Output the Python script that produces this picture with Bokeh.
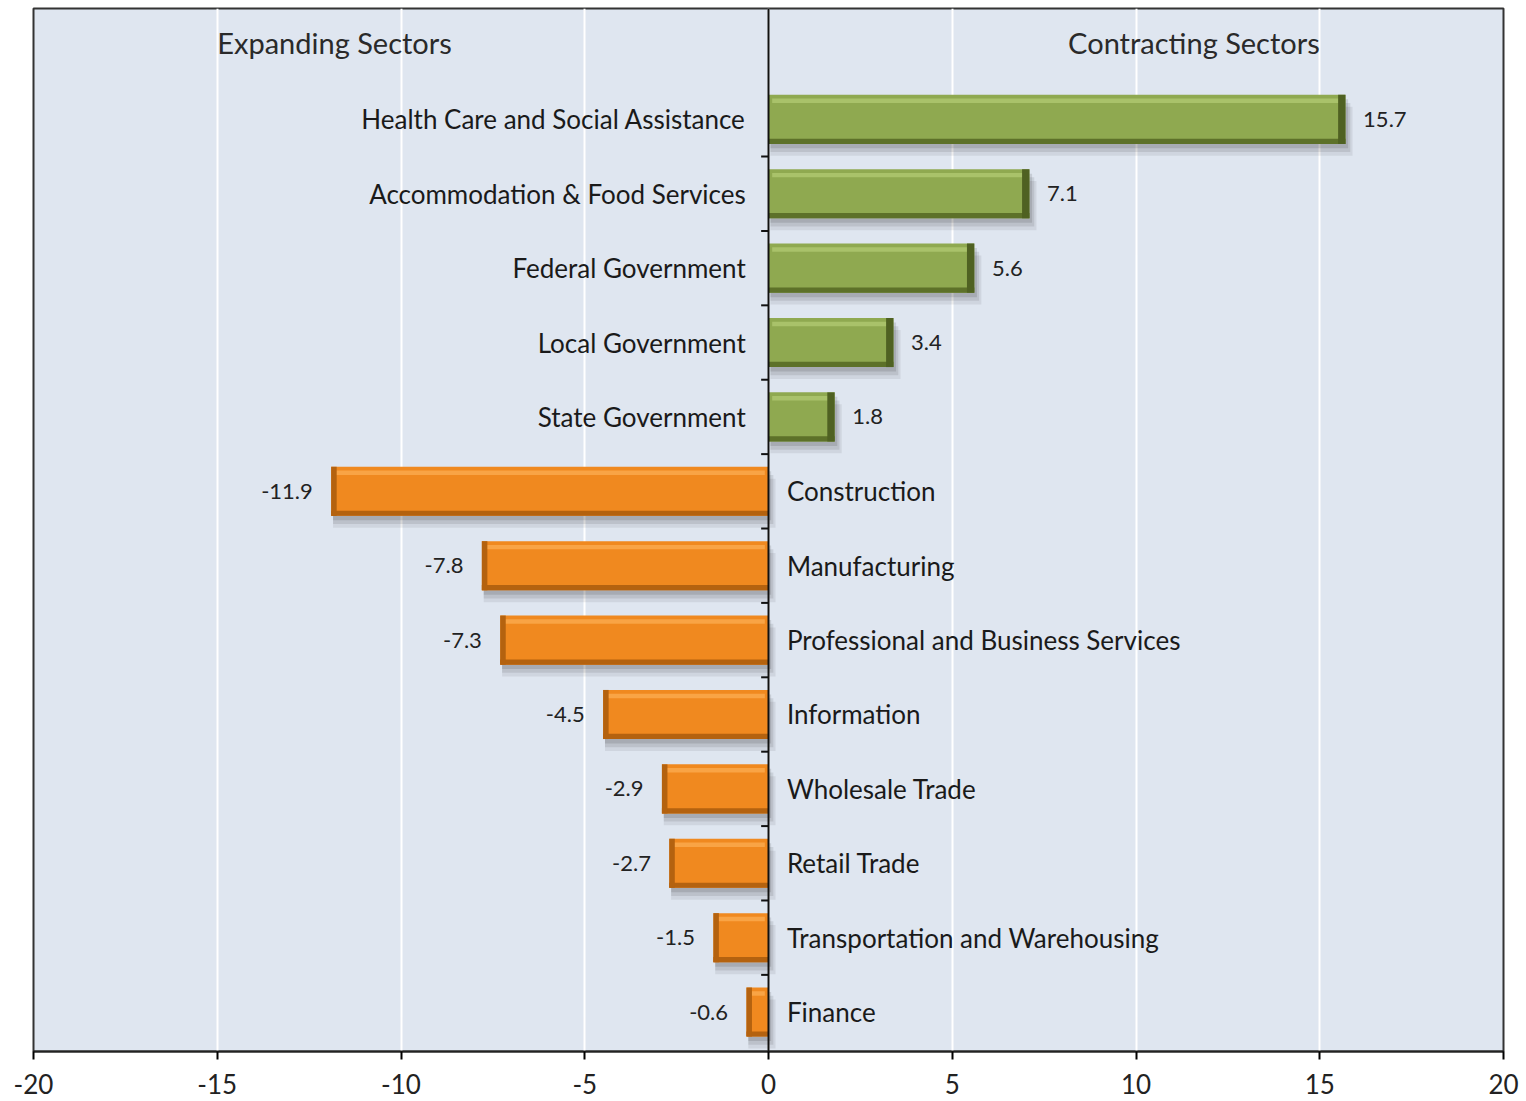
from bokeh.plotting import figure
from bokeh.models import Range1d, ColumnDataSource, FixedTicker, Span
from bokeh.core.properties import value
from bokeh.embed import file_html
from bokeh.resources import INLINE

sectors = ["Health Care and Social Assistance", "Accommodation & Food Services",
           "Federal Government", "Local Government", "State Government",
           "Construction", "Manufacturing", "Professional and Business Services",
           "Information", "Wholesale Trade", "Retail Trade",
           "Transportation and Warehousing", "Finance"]
changes = [15.7, 7.1, 5.6, 3.4, 1.8, -11.9, -7.8, -7.3, -4.5, -2.9, -2.7, -1.5, -0.6]
x_ticks = [-20, -15, -10, -5, 0, 5, 10, 15, 20]
headers = ["Expanding Sectors", "Contracting Sectors"]

FONT = "Lato"
ypos = list(range(len(sectors)))
H = 0.33

p = figure(width=1526, height=1101, output_backend="svg", toolbar_location=None,
           x_range=Range1d(-20, 20), y_range=Range1d(12.53, -1.49),
           y_axis_location=None, min_border_left=33, min_border_right=23,
           min_border_top=8, min_border_bottom=50)
p.background_fill_color = "#dfe6f0"
p.border_fill_color = "white"
p.outline_line_color = "#333333"
p.outline_line_width = 2
p.ygrid.visible = False
p.xgrid.grid_line_color = "white"
p.xgrid.grid_line_width = 2
p.xaxis.ticker = FixedTicker(ticks=x_ticks)
p.xaxis.major_label_overrides = {t: str(t) for t in x_ticks}
p.xaxis.axis_line_width = 2
p.xaxis.axis_line_color = "#222222"
p.xaxis.major_tick_line_width = 2
p.xaxis.major_tick_out = 8
p.xaxis.major_tick_in = 0
p.xaxis.minor_tick_line_color = None
p.xaxis.major_label_text_font = FONT
p.xaxis.major_label_text_font_size = "26px"
p.xaxis.major_label_text_color = "#222222"
p.xaxis.major_label_standoff = 14

green = dict(base="#8fa950", light="#a9c26a", dark="#5d7129", shadow="#4f6122")
orange = dict(base="#f0891f", light="#f9a445", dark="#b4620f", shadow="#8a4a0a")

rows = []
for y, v in zip(ypos, changes):
    c = green if v > 0 else orange
    lo, hi = min(0, v), max(0, v)
    rows.append((y, v, lo, hi, c))

def src(fn):
    d = {"left": [], "right": [], "top": [], "bottom": [], "color": []}
    for y, v, lo, hi, c in rows:
        l, r, t, b, col = fn(y, v, lo, hi, c)
        d["left"].append(l); d["right"].append(r); d["top"].append(t)
        d["bottom"].append(b); d["color"].append(col)
    return ColumnDataSource(d)

# soft shadows
for k, a in [(0.16, 0.07), (0.11, 0.09), (0.06, 0.11)]:
    p.quad(source=src(lambda y, v, lo, hi, c: (lo + 0.05, hi + k * 1.2, y - H + k, y + H + k, "#000000")),
           left="left", right="right", top="top", bottom="bottom",
           fill_color="color", fill_alpha=a, line_color=None)
# main bar
p.quad(source=src(lambda y, v, lo, hi, c: (lo, hi, y - H, y + H, c["base"])),
       left="left", right="right", top="top", bottom="bottom",
       fill_color="color", line_color=None)
# top highlight
p.quad(source=src(lambda y, v, lo, hi, c: (lo + 0.1, hi - 0.1, y - H + 0.05, y - H + 0.11, c["light"])),
       left="left", right="right", top="top", bottom="bottom",
       fill_color="color", line_color=None)
# bottom dark band
p.quad(source=src(lambda y, v, lo, hi, c: (lo, hi, y + H - 0.07, y + H, c["dark"])),
       left="left", right="right", top="top", bottom="bottom",
       fill_color="color", line_color=None)
# end bevel
p.quad(source=src(lambda y, v, lo, hi, c: ((hi - 0.2, hi, y - H, y + H, c["shadow"]) if v > 0
                                           else (lo, lo + 0.15, y - H, y + H, c["dark"]))),
       left="left", right="right", top="top", bottom="bottom",
       fill_color="color", line_color=None)

# zero axis and category separators
p.add_layout(Span(location=0, dimension="height", line_color="#111111", line_width=2))
p.segment(x0=[-0.2] * (len(sectors) - 1), x1=[0] * (len(sectors) - 1),
          y0=[y + 0.5 for y in ypos[:-1]], y1=[y + 0.5 for y in ypos[:-1]],
          line_color="#111111", line_width=2)

# category labels
pos = [(y, s) for y, s, v in zip(ypos, sectors, changes) if v > 0]
neg = [(y, s) for y, s, v in zip(ypos, sectors, changes) if v <= 0]
p.text(x=[-0.62] * len(pos), y=[a for a, _ in pos], text=[b for _, b in pos],
       text_align="right", text_baseline="middle", text_font=value(FONT),
       text_font_size="26px", text_color="#1a1a1a")
p.text(x=[0.5] * len(neg), y=[a for a, _ in neg], text=[b for _, b in neg],
       text_align="left", text_baseline="middle", text_font=value(FONT),
       text_font_size="26px", text_color="#1a1a1a")

# value labels
pv = [(y, v) for y, v in zip(ypos, changes) if v > 0]
nv = [(y, v) for y, v in zip(ypos, changes) if v <= 0]
p.text(x=[v + 0.48 for _, v in pv], y=[y for y, _ in pv], text=[f"{v:.1f}" for _, v in pv],
       text_align="left", text_baseline="middle", text_font=value(FONT),
       text_font_size="22px", text_color="#222222")
p.text(x=[v - 0.5 for _, v in nv], y=[y for y, _ in nv], text=[f"{v:.1f}" for _, v in nv],
       text_align="right", text_baseline="middle", text_font=value(FONT),
       text_font_size="22px", text_color="#222222")

# headers
p.text(x=[-15], y=[-1.03], text=[headers[0]], text_align="left", text_baseline="middle",
       text_font=value(FONT), text_font_size="29px", text_color="#2a2a2a")
p.text(x=[15], y=[-1.03], text=[headers[1]], text_align="right", text_baseline="middle",
       text_font=value(FONT), text_font_size="29px", text_color="#2a2a2a")

open("out.html", "w").write(file_html(p, INLINE))
